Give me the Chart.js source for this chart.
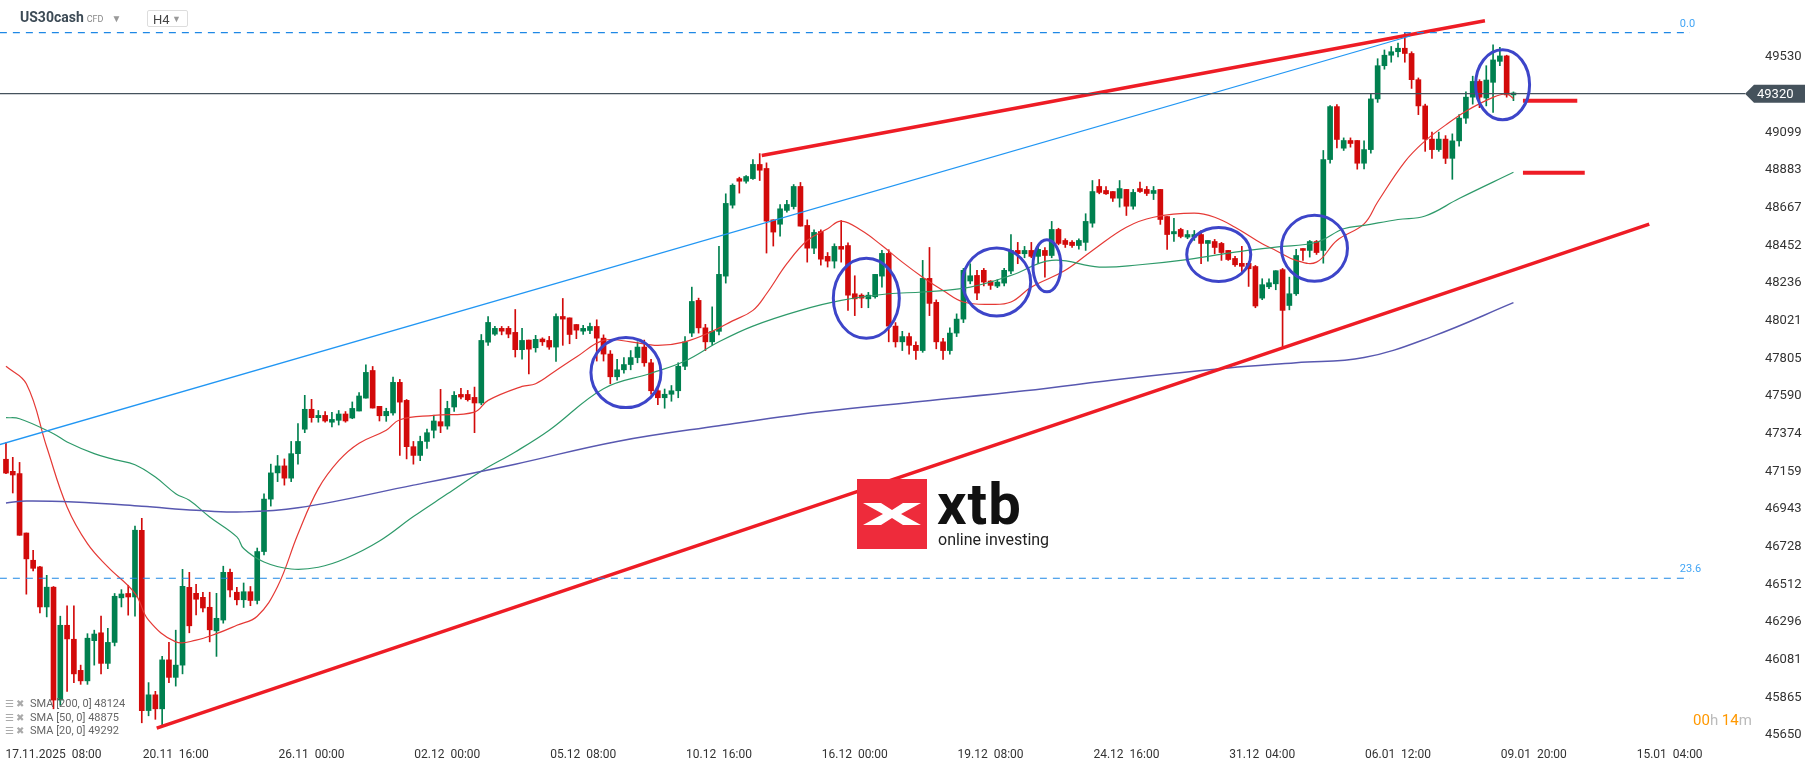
<!DOCTYPE html>
<html>
<head>
<meta charset="utf-8">
<script src="https://cdn.jsdelivr.net/npm/chart.js@4.4.1/dist/chart.umd.min.js"></script>
<style>
  body { margin: 0; background: #fff; font-family: Roboto, "Noto Sans", sans-serif; }
  #wrap { position: relative; width: 1815px; height: 761px; overflow: hidden; }
  #head { position: absolute; left: 20px; top: 9px; font-size: 14px; color: #3c4a55; }
  #head b { font-weight: 700; }
  #head .cfd { font-size: 9px; color: #888; margin-left: 3px; }
  #head .tri { color: #999; font-size: 10px; margin-left: 8px; }
  #tf { position: absolute; left: 147px; top: 10px; width: 41px; height: 17px; border: 1px solid #ddd; border-radius: 2px; font-size: 13px; color: #444; line-height: 17px; padding-left: 5px; box-sizing: border-box; }
  #tf span { color: #999; font-size: 9px; position: absolute; right: 6px; }
  #legend { position: absolute; left: 5px; top: 697px; font-size: 11px; color: #666; line-height: 13.5px; }
  #legend i { font-style: normal; color: #aaa; margin-right: 4px; letter-spacing: 2px; font-size: 10px; }
  #timer { position: absolute; left: 1693px; top: 711px; font-size: 15px; color: #bbb; }
  #timer b { color: #ff9800; font-weight: 400; }
  #logo { position: absolute; left: 857px; top: 479px; }
  #xtb { position: absolute; left: 937px; top: 470px; font-size: 58px; font-weight: 700; color: #111; letter-spacing: 1px; }
  #online { position: absolute; left: 938px; top: 530px; font-size: 16px; color: #222; }
</style>
</head>
<body>
<div id="wrap">
  <canvas id="chart" width="1815" height="761"></canvas>
  <div id="head"><b>US30cash</b><span class="cfd">CFD</span><span class="tri">▼</span></div>
  <div id="tf">H4<span>▼</span></div>
  <svg id="logo" width="70" height="70" viewBox="0 0 70 70">
    <rect width="70" height="70" fill="#ee2b3b"/>
    <polygon points="6,24 24,24 35,31 46,24 64,24 44,35 64,46 46,46 35,39 24,46 6,46 26,35" fill="#fff"/>
  </svg>
  <div id="xtb">xtb</div>
  <div id="online">online investing</div>
  <div id="legend">
    <div><i>☰✖</i>SMA [200, 0] 48124</div>
    <div><i>☰✖</i>SMA [50, 0] 48875</div>
    <div><i>☰✖</i>SMA [20, 0] 49292</div>
  </div>
  <div id="timer"><b>00</b>h <b>14</b>m</div>
</div>
<script>
// H4 candles, one per index
var open = [
  47228,47159,47146,46806,46650,46612,46383,46496,45850,46278,
  46198,46020,45960,46190,46235,46060,46180,46435,46460,46440,
  46822,45790,45880,45800,46080,45980,46050,46495,46461,46438,
  46381,46246,46308,46581,46467,46424,46470,46420,46700,47000,
  47150,47190,47120,47260,47400,47514,47466,47479,47440,47451,
  47487,47464,47504,47578,47736,47531,47477,47493,47668,47565,
  47300,47250,47330,47394,47443,47418,47527,47599,47599,47582,
  47550,47898,47944,47977,47977,47954,47855,47910,47866,47916,
  47908,47870,48045,48037,47999,47961,47965,47988,47921,47830,
  47700,47740,47770,47810,47870,47780,47620,47580,47600,47620,
  47760,47950,48137,47980,47900,47960,48276,48682,48834,48819,
  48834,48915,48892,48598,48573,48652,48674,48789,48566,48436,
  48531,48389,48362,48446,48451,48175,48167,48146,48158,48276,
  48406,47990,47900,47930,47880,47850,48263,48126,47900,47850,
  47950,48030,48248,48280,48309,48248,48219,48236,48305,48423,
  48404,48423,48389,48423,48394,48543,48480,48470,48451,48469,
  48579,48789,48766,48760,48722,48772,48676,48777,48772,48749,
  48772,48617,48518,48543,48499,48499,48514,48463,48474,48463,
  48423,48377,48349,48349,48331,48150,48215,48232,48313,48108,
  48175,48434,48423,48474,48423,48943,49246,49008,49052,49052,
  48922,49000,49290,49480,49540,49560,49580,49550,49400,49250,
  49060,49000,49060,48950,49050,49180,49300,49390,49295,49385,
  49505,49536,49313
];
var high = [
  47323,47239,47210,46806,46707,46616,46564,46500,46330,46390,
  46390,46050,46230,46250,46330,46260,46460,46482,46507,46845,
  46890,45950,45900,46100,46180,46250,46598,46581,46513,46467,
  46467,46461,46616,46600,46495,46520,46500,46720,47030,47200,
  47250,47230,47330,47432,47594,47571,47507,47501,47497,47507,
  47501,47556,47609,47769,47759,47531,47520,47698,47685,47570,
  47330,47360,47400,47480,47628,47560,47615,47634,47622,47641,
  47942,48045,47988,47988,47988,48085,47977,47910,47937,47923,
  47931,48060,48148,48037,47999,47994,48007,48026,47940,47850,
  47800,47810,47850,47900,47910,47800,47640,47630,47650,47780,
  47930,48213,48150,48000,48100,48446,48747,48804,48842,48852,
  48943,48977,48924,48598,48686,48709,48800,48812,48598,48541,
  48541,48411,48461,48594,48467,48278,48175,48183,48286,48423,
  48427,48010,47960,47950,47900,48366,48440,48140,47920,47980,
  48060,48320,48347,48309,48320,48250,48255,48320,48514,48469,
  48446,48469,48455,48440,48589,48550,48490,48480,48490,48633,
  48823,48829,48789,48760,48823,48772,48772,48814,48789,48789,
  48772,48617,48606,48550,48537,48537,48537,48480,48486,48469,
  48423,48389,48446,48349,48337,48261,48261,48307,48320,48270,
  48429,48434,48480,48480,48995,49252,49258,49067,49067,49052,
  49050,49320,49520,49570,49590,49610,49665,49560,49410,49260,
  49100,49100,49080,49090,49200,49330,49420,49400,49480,49600,
  49585,49540,49330
];
var low = [
  47146,47035,46793,46456,46589,46349,46326,45800,45820,45900,
  45950,45940,45940,46050,46000,46030,46160,46383,46336,46330,
  45720,45760,45740,45700,45950,45930,46000,46235,46337,46355,
  46183,46100,46290,46440,46395,46380,46390,46400,46680,46960,
  47100,47080,47100,47200,47380,47440,47440,47440,47413,47424,
  47440,47460,47504,47578,47521,47447,47445,47480,47250,47230,
  47200,47220,47290,47350,47380,47400,47502,47574,47561,47380,
  47540,47880,47937,47940,47923,47813,47801,47717,47841,47879,
  47857,47788,47880,47889,47918,47942,47946,47790,47790,47660,
  47680,47720,47740,47780,47760,47600,47540,47520,47560,47580,
  47740,47930,47950,47850,47880,47940,48236,48665,48751,48808,
  48829,48823,48408,48448,48505,48642,48660,48562,48356,48404,
  48339,48328,48322,48356,48080,48050,48095,48095,48150,48213,
  47900,47870,47850,47830,47800,47840,48050,47860,47800,47830,
  47930,48010,48232,48141,48220,48200,48210,48220,48290,48347,
  48381,48381,48347,48270,48381,48455,48440,48440,48430,48423,
  48556,48747,48743,48703,48671,48623,48659,48755,48737,48714,
  48572,48429,48474,48495,48490,48480,48347,48362,48404,48366,
  48366,48331,48290,48217,48095,48141,48204,48198,47870,48083,
  48166,48366,48385,48400,48350,48922,49010,48995,49014,48888,
  48890,48980,49270,49460,49500,49530,49500,49350,49200,48990,
  48950,48990,48920,48830,49020,49150,49260,49240,49250,49213,
  49480,49300,49280
];
var close = [
  47149,47138,46793,46658,46604,46383,46496,45850,46278,46200,
  46000,45960,46204,46228,46060,46180,46444,46457,46440,46822,
  45790,45880,45800,46080,45980,46050,46501,46275,46427,46377,
  46252,46318,46581,46480,46424,46470,46420,46700,47000,47150,
  47190,47120,47260,47330,47514,47466,47479,47447,47456,47487,
  47447,47519,47590,47725,47521,47477,47502,47668,47555,47300,
  47250,47330,47380,47447,47418,47519,47594,47584,47569,47550,
  47908,48011,47977,47961,47944,47855,47908,47858,47914,47900,
  47870,48045,48030,47942,47967,47977,47988,47921,47830,47700,
  47740,47770,47810,47870,47780,47620,47580,47600,47620,47760,
  47900,48131,47980,47900,47960,48286,48692,48796,48819,48846,
  48915,48882,48591,48528,48661,48686,48789,48562,48436,48526,
  48373,48362,48446,48430,48167,48146,48150,48167,48286,48406,
  47990,47900,47930,47880,47850,48263,48120,47900,47850,47950,
  48030,48309,48278,48179,48242,48223,48242,48309,48423,48404,
  48423,48389,48429,48394,48543,48463,48457,48451,48480,48589,
  48760,48755,48747,48722,48777,48676,48755,48760,48749,48766,
  48600,48514,48531,48503,48514,48514,48463,48480,48440,48411,
  48371,48341,48332,48318,48105,48227,48238,48307,48080,48175,
  48394,48423,48474,48411,48943,49246,49058,49052,49035,48922,
  49000,49290,49480,49540,49560,49580,49550,49400,49250,49060,
  49000,49060,48950,49050,49180,49300,49390,49300,49398,49513,
  49536,49313,49324
];

// moving averages (candle index, price)
var sma20X = [0,3,6,9,12,15,19,21,25,28,31,34,37,40,43,46,49,52,56,58,63,69,71,76,78,81,84,88,92,96,100,104,107,110,112,115,118,121,123,126,129,132,135,138,141,145,148,151,156,160,165,169,175,178,181,185,187,190,193,196,200,202,206,209,212,215,219,221,222];
var sma20Y = [47760,47660,47298,46955,46745,46612,46460,46307,46183,46193,46230,46278,46330,46500,46800,47060,47220,47320,47394,47454,47479,47498,47565,47645,47660,47736,47813,47908,47900,47880,47900,47960,48020,48080,48175,48347,48480,48547,48591,48537,48451,48356,48270,48194,48128,48114,48128,48213,48309,48423,48556,48613,48636,48613,48556,48461,48423,48366,48356,48480,48575,48700,48930,49050,49140,49220,49299,49318,49292];
var sma50X = [0,2,7,9,13,16,19,22,25,27,30,34,35,38,42,46,50,55,60,65,70,75,80,88,95,100,105,110,117,123,130,135,142,148,154,161,167,173,181,187,193,197,200,205,209,214,222];
var sma50Y = [47466,47460,47374,47327,47260,47226,47197,47126,47031,46993,46898,46784,46717,46640,46600,46610,46660,46760,46900,47030,47160,47270,47394,47632,47720,47790,47900,47990,48080,48137,48175,48185,48213,48280,48366,48328,48341,48366,48413,48442,48470,48547,48566,48600,48620,48720,48870];
var sma200X = [0,3,10,20,28,34,43,60,75,90,105,120,135,150,165,180,190,200,210,222];
var sma200Y = [46978,46989,46983,46959,46936,46926,46950,47080,47200,47330,47420,47500,47560,47620,47690,47750,47780,47810,47930,48124];

// drawn tools
var blueLineX = [-0.9, 206.8], blueLineY = [47312, 49650];
var redTopX = [111.3, 217.8], redTopY = [48966, 49737];
var redBotX = [22.2, 242], redBotY = [45690, 48574];
var levelAX = [223.4, 231.4], levelAY = [49280, 49280];
var levelBX = [223.4, 232.5], levelBY = [48867, 48867];
var fibLevels = [49669, 46547];
var fibNames = ["0.0", "23.6"];
var lastPrice = 49320;
var circleX = [91.3, 126.7, 145.9, 153.3, 178.6, 192.7, 220.4];
var circleY = [47724, 48149, 48242, 48335, 48400, 48435, 49371];
var circleRx = [35, 33, 34, 14, 32, 33, 27];
var circleRy = [35, 40, 34, 26, 27, 33, 35];

var tickIdx = [7,25,45,65,85,105,125,145,165,185,205,225,245];
var tickLabels = ["17.11.2025  08:00","20.11  16:00","26.11  00:00","02.12  00:00","05.12  08:00","10.12  16:00","16.12  00:00","19.12  08:00","24.12  16:00","31.12  04:00","06.01  12:00","09.01  20:00","15.01  04:00"];
var yTicks = [49530,49099,48883,48667,48452,48236,48021,47805,47590,47374,47159,46943,46728,46512,46296,46081,45865,45650];

var GREEN = "#00804f", RED = "#d20a0a";
var colors = close.map(function (c, i) { return c >= open[i] ? GREEN : RED; });

function pts(xs, ys) {
  return xs.map(function (x, i) { return { x: x, y: ys[i] }; });
}
function seg(xs, ys, color, width, dash) {
  return { type: "line", data: pts(xs, ys), borderColor: color, borderWidth: width,
    borderDash: dash || [], pointRadius: 0, tension: 0, order: 0 };
}

var fibSets = fibLevels.map(function (v) {
  return seg([-0.9, 248], [v, v], "#1e88e5", 1.2, [7, 6]);
});

var overlay = {
  id: "overlay",
  afterDatasetsDraw: function (chart) {
    var c = chart.ctx, xs = chart.scales.x, ys = chart.scales.y;
    c.save();
    c.strokeStyle = "#3d45c9";
    c.lineWidth = 3;
    circleX.forEach(function (x, i) {
      c.beginPath();
      c.ellipse(xs.getPixelForValue(x), ys.getPixelForValue(circleY[i]), circleRx[i], circleRy[i], 0, 0, Math.PI * 2);
      c.stroke();
    });
    c.fillStyle = "#42a5f5";
    c.font = "11px Roboto";
    c.textAlign = "left";
    fibLevels.forEach(function (v, i) {
      c.fillText(fibNames[i], xs.getPixelForValue(246.5), ys.getPixelForValue(v) - 6);
    });
    // last price tag
    var py = ys.getPixelForValue(lastPrice);
    var x0 = xs.right;
    c.fillStyle = "#45525c";
    c.beginPath();
    c.moveTo(x0, py);
    c.lineTo(x0 + 9, py - 9);
    c.lineTo(x0 + 60, py - 9);
    c.lineTo(x0 + 60, py + 9);
    c.lineTo(x0 + 9, py + 9);
    c.closePath();
    c.fill();
    c.fillStyle = "#fff";
    c.font = "13px Roboto";
    c.textBaseline = "middle";
    c.fillText(String(lastPrice), x0 + 12, py + 1);
    c.restore();
  }
};

new Chart(document.getElementById("chart"), {
  type: "bar",
  data: {
    datasets: [
      { type: "bar", data: low.map(function (l, i) { return { x: i, y: [l, high[i]] }; }),
        backgroundColor: colors, barThickness: 1, grouped: false, order: 3 },
      { type: "bar", data: open.map(function (o, i) { return { x: i, y: [o, close[i]] }; }),
        backgroundColor: colors, barThickness: 5, minBarLength: 1, grouped: false, order: 2 },
      { type: "line", data: pts(sma200X, sma200Y), borderColor: "#5858b0", borderWidth: 1.5, pointRadius: 0, tension: 0.4, order: 1 },
      { type: "line", data: pts(sma50X, sma50Y), borderColor: "#2e9a6a", borderWidth: 1.2, pointRadius: 0, tension: 0.4, order: 1 },
      { type: "line", data: pts(sma20X, sma20Y), borderColor: "#e53935", borderWidth: 1.2, pointRadius: 0, tension: 0.4, order: 1 },
      seg([-0.9, 256.1], [lastPrice, lastPrice], "#45525c", 1.2),
      fibSets[0], fibSets[1],
      seg(blueLineX, blueLineY, "#2196f3", 1.3),
      seg(redTopX, redTopY, "#ee1c25", 3.5),
      seg(redBotX, redBotY, "#ee1c25", 3.5),
      seg(levelAX, levelAY, "#ee1c25", 4),
      seg(levelBX, levelBY, "#ee1c25", 4)
    ]
  },
  options: {
    responsive: false,
    animation: false,
    layout: { padding: 0 },
    plugins: { legend: { display: false }, tooltip: { enabled: false } },
    scales: {
      x: {
        type: "linear", min: -0.88, max: 256.1, offset: false,
        grid: { display: false }, border: { display: false },
        afterBuildTicks: function (s) { s.ticks = tickIdx.map(function (v) { return { value: v }; }); },
        afterFit: function (s) { s.height = 23; s.paddingLeft = 0; s.paddingRight = 0; },
        ticks: { autoSkip: false, maxRotation: 0, padding: 2, color: "#333", font: { size: 12, family: "Roboto" },
          callback: function (v) { return tickLabels[tickIdx.indexOf(v)]; } }
      },
      y: {
        position: "right", min: 45633, max: 49856,
        grid: { display: false }, border: { display: false },
        afterBuildTicks: function (s) { s.ticks = yTicks.map(function (v) { return { value: v }; }); },
        afterFit: function (s) { s.width = 70; s.paddingTop = 0; s.paddingBottom = 0; },
        ticks: { padding: 12, color: "#333", font: { size: 13, family: "Roboto" },
          callback: function (v) { return String(v); } }
      }
    }
  },
  plugins: [overlay]
});
</script>
</body>
</html>
